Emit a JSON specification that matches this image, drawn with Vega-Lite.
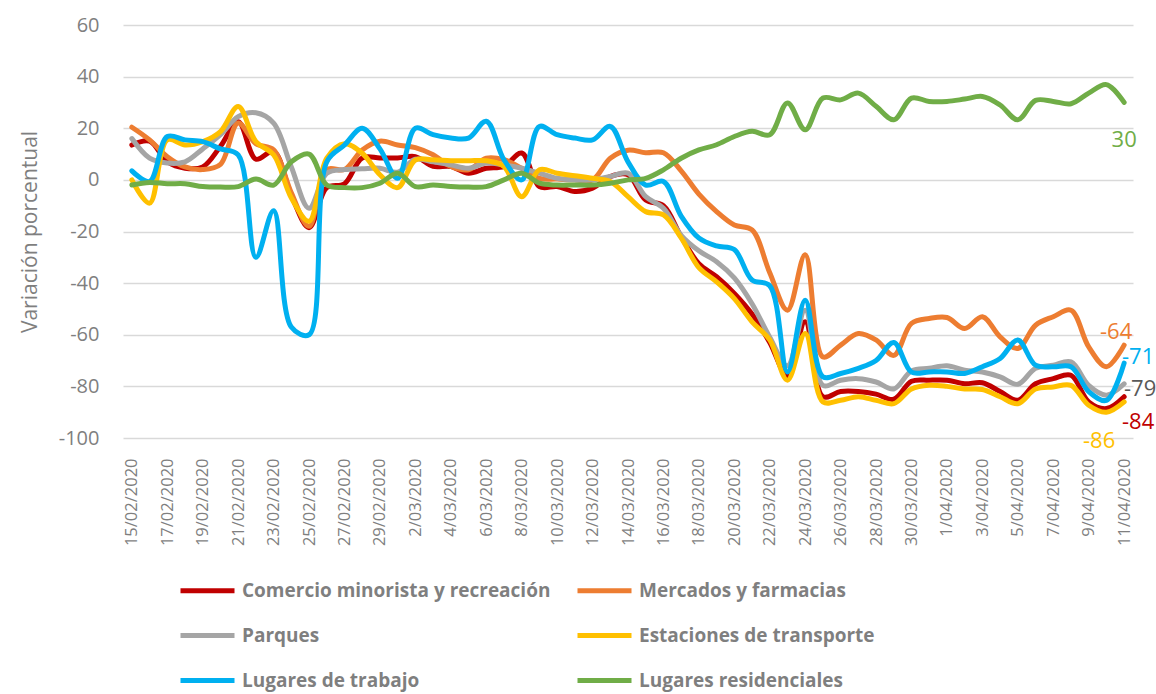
{
"$schema":"https://vega.github.io/schema/vega-lite/v6.json",
"width":1010,"height":413,
"autosize":{"type":"none"},
"padding":{"left":123,"top":25,"right":23,"bottom":256},
"config":{"view":{"stroke":null},"font":"Open Sans","locale":{"number":{"decimal":".","thousands":",","grouping":[3],"currency":["",""],"minus":"-"}}},
"data":{"values":[
{"f":"15/02/2020","s":"Comercio minorista y recreación","v":13.5},{"f":"16/02/2020","s":"Comercio minorista y recreación","v":15},{"f":"17/02/2020","s":"Comercio minorista y recreación","v":7},{"f":"18/02/2020","s":"Comercio minorista y recreación","v":4.5},{"f":"19/02/2020","s":"Comercio minorista y recreación","v":5},{"f":"20/02/2020","s":"Comercio minorista y recreación","v":13},{"f":"21/02/2020","s":"Comercio minorista y recreación","v":22.5},{"f":"22/02/2020","s":"Comercio minorista y recreación","v":8},{"f":"23/02/2020","s":"Comercio minorista y recreación","v":11},{"f":"24/02/2020","s":"Comercio minorista y recreación","v":-6},{"f":"25/02/2020","s":"Comercio minorista y recreación","v":-18.5},{"f":"26/02/2020","s":"Comercio minorista y recreación","v":-3},{"f":"27/02/2020","s":"Comercio minorista y recreación","v":-1.5},{"f":"28/02/2020","s":"Comercio minorista y recreación","v":8.5},{"f":"29/02/2020","s":"Comercio minorista y recreación","v":8.5},{"f":"1/03/2020","s":"Comercio minorista y recreación","v":8.5},{"f":"2/03/2020","s":"Comercio minorista y recreación","v":9},{"f":"3/03/2020","s":"Comercio minorista y recreación","v":5.2},{"f":"4/03/2020","s":"Comercio minorista y recreación","v":5.2},{"f":"5/03/2020","s":"Comercio minorista y recreación","v":2.6},{"f":"6/03/2020","s":"Comercio minorista y recreación","v":4.5},{"f":"7/03/2020","s":"Comercio minorista y recreación","v":5.2},{"f":"8/03/2020","s":"Comercio minorista y recreación","v":10.4},{"f":"9/03/2020","s":"Comercio minorista y recreación","v":-2.6},{"f":"10/03/2020","s":"Comercio minorista y recreación","v":-2.6},{"f":"11/03/2020","s":"Comercio minorista y recreación","v":-4.5},{"f":"12/03/2020","s":"Comercio minorista y recreación","v":-3.2},{"f":"13/03/2020","s":"Comercio minorista y recreación","v":1.3},{"f":"14/03/2020","s":"Comercio minorista y recreación","v":2},{"f":"15/03/2020","s":"Comercio minorista y recreación","v":-7.8},{"f":"16/03/2020","s":"Comercio minorista y recreación","v":-10},{"f":"17/03/2020","s":"Comercio minorista y recreación","v":-22},{"f":"18/03/2020","s":"Comercio minorista y recreación","v":-32.5},{"f":"19/03/2020","s":"Comercio minorista y recreación","v":-37.5},{"f":"20/03/2020","s":"Comercio minorista y recreación","v":-44},{"f":"21/03/2020","s":"Comercio minorista y recreación","v":-52},{"f":"22/03/2020","s":"Comercio minorista y recreación","v":-63},{"f":"23/03/2020","s":"Comercio minorista y recreación","v":-76},{"f":"24/03/2020","s":"Comercio minorista y recreación","v":-55},{"f":"25/03/2020","s":"Comercio minorista y recreación","v":-84},{"f":"26/03/2020","s":"Comercio minorista y recreación","v":-82},{"f":"27/03/2020","s":"Comercio minorista y recreación","v":-82},{"f":"28/03/2020","s":"Comercio minorista y recreación","v":-83},{"f":"29/03/2020","s":"Comercio minorista y recreación","v":-85},{"f":"30/03/2020","s":"Comercio minorista y recreación","v":-78},{"f":"31/03/2020","s":"Comercio minorista y recreación","v":-77.6},{"f":"1/04/2020","s":"Comercio minorista y recreación","v":-77.6},{"f":"2/04/2020","s":"Comercio minorista y recreación","v":-79},{"f":"3/04/2020","s":"Comercio minorista y recreación","v":-78.6},{"f":"4/04/2020","s":"Comercio minorista y recreación","v":-82},{"f":"5/04/2020","s":"Comercio minorista y recreación","v":-85.4},{"f":"6/04/2020","s":"Comercio minorista y recreación","v":-79},{"f":"7/04/2020","s":"Comercio minorista y recreación","v":-77},{"f":"8/04/2020","s":"Comercio minorista y recreación","v":-75.7},{"f":"9/04/2020","s":"Comercio minorista y recreación","v":-86},{"f":"10/04/2020","s":"Comercio minorista y recreación","v":-88.6},{"f":"11/04/2020","s":"Comercio minorista y recreación","v":-84},
{"f":"15/02/2020","s":"Mercados y farmacias","v":20.4},{"f":"16/02/2020","s":"Mercados y farmacias","v":15.5},{"f":"17/02/2020","s":"Mercados y farmacias","v":9},{"f":"18/02/2020","s":"Mercados y farmacias","v":5},{"f":"19/02/2020","s":"Mercados y farmacias","v":4},{"f":"20/02/2020","s":"Mercados y farmacias","v":6},{"f":"21/02/2020","s":"Mercados y farmacias","v":22},{"f":"22/02/2020","s":"Mercados y farmacias","v":14},{"f":"23/02/2020","s":"Mercados y farmacias","v":11.6},{"f":"24/02/2020","s":"Mercados y farmacias","v":-5},{"f":"25/02/2020","s":"Mercados y farmacias","v":-18},{"f":"26/02/2020","s":"Mercados y farmacias","v":4},{"f":"27/02/2020","s":"Mercados y farmacias","v":4},{"f":"28/02/2020","s":"Mercados y farmacias","v":11.6},{"f":"29/02/2020","s":"Mercados y farmacias","v":15},{"f":"1/03/2020","s":"Mercados y farmacias","v":13.5},{"f":"2/03/2020","s":"Mercados y farmacias","v":12.5},{"f":"3/03/2020","s":"Mercados y farmacias","v":9.7},{"f":"4/03/2020","s":"Mercados y farmacias","v":5.2},{"f":"5/03/2020","s":"Mercados y farmacias","v":3.9},{"f":"6/03/2020","s":"Mercados y farmacias","v":8.4},{"f":"7/03/2020","s":"Mercados y farmacias","v":7.8},{"f":"8/03/2020","s":"Mercados y farmacias","v":4.5},{"f":"9/03/2020","s":"Mercados y farmacias","v":0.6},{"f":"10/03/2020","s":"Mercados y farmacias","v":0.3},{"f":"11/03/2020","s":"Mercados y farmacias","v":0},{"f":"12/03/2020","s":"Mercados y farmacias","v":0},{"f":"13/03/2020","s":"Mercados y farmacias","v":8.4},{"f":"14/03/2020","s":"Mercados y farmacias","v":11.5},{"f":"15/03/2020","s":"Mercados y farmacias","v":10.5},{"f":"16/03/2020","s":"Mercados y farmacias","v":10.5},{"f":"17/03/2020","s":"Mercados y farmacias","v":3.5},{"f":"18/03/2020","s":"Mercados y farmacias","v":-5.5},{"f":"19/03/2020","s":"Mercados y farmacias","v":-12.3},{"f":"20/03/2020","s":"Mercados y farmacias","v":-17.5},{"f":"21/03/2020","s":"Mercados y farmacias","v":-19.4},{"f":"22/03/2020","s":"Mercados y farmacias","v":-36},{"f":"23/03/2020","s":"Mercados y farmacias","v":-50.5},{"f":"24/03/2020","s":"Mercados y farmacias","v":-29},{"f":"25/03/2020","s":"Mercados y farmacias","v":-68.6},{"f":"26/03/2020","s":"Mercados y farmacias","v":-64},{"f":"27/03/2020","s":"Mercados y farmacias","v":-59.5},{"f":"28/03/2020","s":"Mercados y farmacias","v":-62},{"f":"29/03/2020","s":"Mercados y farmacias","v":-68},{"f":"30/03/2020","s":"Mercados y farmacias","v":-55.6},{"f":"31/03/2020","s":"Mercados y farmacias","v":-53.7},{"f":"1/04/2020","s":"Mercados y farmacias","v":-53.3},{"f":"2/04/2020","s":"Mercados y farmacias","v":-57.6},{"f":"3/04/2020","s":"Mercados y farmacias","v":-53},{"f":"4/04/2020","s":"Mercados y farmacias","v":-60.8},{"f":"5/04/2020","s":"Mercados y farmacias","v":-65.3},{"f":"6/04/2020","s":"Mercados y farmacias","v":-56.3},{"f":"7/04/2020","s":"Mercados y farmacias","v":-53},{"f":"8/04/2020","s":"Mercados y farmacias","v":-50.5},{"f":"9/04/2020","s":"Mercados y farmacias","v":-64.7},{"f":"10/04/2020","s":"Mercados y farmacias","v":-72.4},{"f":"11/04/2020","s":"Mercados y farmacias","v":-64},
{"f":"15/02/2020","s":"Parques","v":16},{"f":"16/02/2020","s":"Parques","v":8.4},{"f":"17/02/2020","s":"Parques","v":6.5},{"f":"18/02/2020","s":"Parques","v":7},{"f":"19/02/2020","s":"Parques","v":12},{"f":"20/02/2020","s":"Parques","v":17.5},{"f":"21/02/2020","s":"Parques","v":24.5},{"f":"22/02/2020","s":"Parques","v":26},{"f":"23/02/2020","s":"Parques","v":22},{"f":"24/02/2020","s":"Parques","v":5},{"f":"25/02/2020","s":"Parques","v":-11},{"f":"26/02/2020","s":"Parques","v":2.6},{"f":"27/02/2020","s":"Parques","v":4},{"f":"28/02/2020","s":"Parques","v":4.3},{"f":"29/02/2020","s":"Parques","v":4.5},{"f":"1/03/2020","s":"Parques","v":3},{"f":"2/03/2020","s":"Parques","v":8},{"f":"3/03/2020","s":"Parques","v":7},{"f":"4/03/2020","s":"Parques","v":5.8},{"f":"5/03/2020","s":"Parques","v":4.5},{"f":"6/03/2020","s":"Parques","v":6.5},{"f":"7/03/2020","s":"Parques","v":5.8},{"f":"8/03/2020","s":"Parques","v":4.5},{"f":"9/03/2020","s":"Parques","v":2.6},{"f":"10/03/2020","s":"Parques","v":0.6},{"f":"11/03/2020","s":"Parques","v":0},{"f":"12/03/2020","s":"Parques","v":0},{"f":"13/03/2020","s":"Parques","v":1.3},{"f":"14/03/2020","s":"Parques","v":2.6},{"f":"15/03/2020","s":"Parques","v":-6.5},{"f":"16/03/2020","s":"Parques","v":-11},{"f":"17/03/2020","s":"Parques","v":-21.5},{"f":"18/03/2020","s":"Parques","v":-27.5},{"f":"19/03/2020","s":"Parques","v":-31.7},{"f":"20/03/2020","s":"Parques","v":-38},{"f":"21/03/2020","s":"Parques","v":-48},{"f":"22/03/2020","s":"Parques","v":-61},{"f":"23/03/2020","s":"Parques","v":-72},{"f":"24/03/2020","s":"Parques","v":-50.5},{"f":"25/03/2020","s":"Parques","v":-79.6},{"f":"26/03/2020","s":"Parques","v":-77.6},{"f":"27/03/2020","s":"Parques","v":-77},{"f":"28/03/2020","s":"Parques","v":-78.3},{"f":"29/03/2020","s":"Parques","v":-81},{"f":"30/03/2020","s":"Parques","v":-74},{"f":"31/03/2020","s":"Parques","v":-73},{"f":"1/04/2020","s":"Parques","v":-72},{"f":"2/04/2020","s":"Parques","v":-73.7},{"f":"3/04/2020","s":"Parques","v":-74.4},{"f":"4/04/2020","s":"Parques","v":-76.3},{"f":"5/04/2020","s":"Parques","v":-79.2},{"f":"6/04/2020","s":"Parques","v":-73},{"f":"7/04/2020","s":"Parques","v":-71.8},{"f":"8/04/2020","s":"Parques","v":-70.5},{"f":"9/04/2020","s":"Parques","v":-79.6},{"f":"10/04/2020","s":"Parques","v":-83.4},{"f":"11/04/2020","s":"Parques","v":-79},
{"f":"15/02/2020","s":"Estaciones de transporte","v":0},{"f":"16/02/2020","s":"Estaciones de transporte","v":-9},{"f":"17/02/2020","s":"Estaciones de transporte","v":15.5},{"f":"18/02/2020","s":"Estaciones de transporte","v":13.5},{"f":"19/02/2020","s":"Estaciones de transporte","v":14.8},{"f":"20/02/2020","s":"Estaciones de transporte","v":18.7},{"f":"21/02/2020","s":"Estaciones de transporte","v":28.4},{"f":"22/02/2020","s":"Estaciones de transporte","v":14.8},{"f":"23/02/2020","s":"Estaciones de transporte","v":9.7},{"f":"24/02/2020","s":"Estaciones de transporte","v":-7},{"f":"25/02/2020","s":"Estaciones de transporte","v":-16},{"f":"26/02/2020","s":"Estaciones de transporte","v":8.4},{"f":"27/02/2020","s":"Estaciones de transporte","v":14},{"f":"28/02/2020","s":"Estaciones de transporte","v":10.3},{"f":"29/02/2020","s":"Estaciones de transporte","v":2},{"f":"1/03/2020","s":"Estaciones de transporte","v":-3},{"f":"2/03/2020","s":"Estaciones de transporte","v":7.7},{"f":"3/03/2020","s":"Estaciones de transporte","v":7.8},{"f":"4/03/2020","s":"Estaciones de transporte","v":7.4},{"f":"5/03/2020","s":"Estaciones de transporte","v":7.4},{"f":"6/03/2020","s":"Estaciones de transporte","v":7.4},{"f":"7/03/2020","s":"Estaciones de transporte","v":5.2},{"f":"8/03/2020","s":"Estaciones de transporte","v":-6.5},{"f":"9/03/2020","s":"Estaciones de transporte","v":3.9},{"f":"10/03/2020","s":"Estaciones de transporte","v":2.6},{"f":"11/03/2020","s":"Estaciones de transporte","v":1.6},{"f":"12/03/2020","s":"Estaciones de transporte","v":0.6},{"f":"13/03/2020","s":"Estaciones de transporte","v":-0.6},{"f":"14/03/2020","s":"Estaciones de transporte","v":-6.5},{"f":"15/03/2020","s":"Estaciones de transporte","v":-12.3},{"f":"16/03/2020","s":"Estaciones de transporte","v":-13.6},{"f":"17/03/2020","s":"Estaciones de transporte","v":-22.5},{"f":"18/03/2020","s":"Estaciones de transporte","v":-34},{"f":"19/03/2020","s":"Estaciones de transporte","v":-39.5},{"f":"20/03/2020","s":"Estaciones de transporte","v":-46},{"f":"21/03/2020","s":"Estaciones de transporte","v":-55},{"f":"22/03/2020","s":"Estaciones de transporte","v":-62},{"f":"23/03/2020","s":"Estaciones de transporte","v":-77.6},{"f":"24/03/2020","s":"Estaciones de transporte","v":-59.5},{"f":"25/03/2020","s":"Estaciones de transporte","v":-86},{"f":"26/03/2020","s":"Estaciones de transporte","v":-85.4},{"f":"27/03/2020","s":"Estaciones de transporte","v":-84},{"f":"28/03/2020","s":"Estaciones de transporte","v":-85.4},{"f":"29/03/2020","s":"Estaciones de transporte","v":-86.7},{"f":"30/03/2020","s":"Estaciones de transporte","v":-81},{"f":"31/03/2020","s":"Estaciones de transporte","v":-79.6},{"f":"1/04/2020","s":"Estaciones de transporte","v":-80},{"f":"2/04/2020","s":"Estaciones de transporte","v":-81},{"f":"3/04/2020","s":"Estaciones de transporte","v":-81.2},{"f":"4/04/2020","s":"Estaciones de transporte","v":-84},{"f":"5/04/2020","s":"Estaciones de transporte","v":-86.7},{"f":"6/04/2020","s":"Estaciones de transporte","v":-81},{"f":"7/04/2020","s":"Estaciones de transporte","v":-80.2},{"f":"8/04/2020","s":"Estaciones de transporte","v":-79.6},{"f":"9/04/2020","s":"Estaciones de transporte","v":-87.3},{"f":"10/04/2020","s":"Estaciones de transporte","v":-90},{"f":"11/04/2020","s":"Estaciones de transporte","v":-86},
{"f":"15/02/2020","s":"Lugares de trabajo","v":3.5},{"f":"16/02/2020","s":"Lugares de trabajo","v":-0.6},{"f":"17/02/2020","s":"Lugares de trabajo","v":16.8},{"f":"18/02/2020","s":"Lugares de trabajo","v":15.5},{"f":"19/02/2020","s":"Lugares de trabajo","v":14.8},{"f":"20/02/2020","s":"Lugares de trabajo","v":12},{"f":"21/02/2020","s":"Lugares de trabajo","v":9.7},{"f":"22/02/2020","s":"Lugares de trabajo","v":-30},{"f":"23/02/2020","s":"Lugares de trabajo","v":-12},{"f":"24/02/2020","s":"Lugares de trabajo","v":-57},{"f":"25/02/2020","s":"Lugares de trabajo","v":-60},{"f":"26/02/2020","s":"Lugares de trabajo","v":7},{"f":"27/02/2020","s":"Lugares de trabajo","v":13.5},{"f":"28/02/2020","s":"Lugares de trabajo","v":20},{"f":"29/02/2020","s":"Lugares de trabajo","v":12},{"f":"1/03/2020","s":"Lugares de trabajo","v":0.6},{"f":"2/03/2020","s":"Lugares de trabajo","v":20},{"f":"3/03/2020","s":"Lugares de trabajo","v":17.5},{"f":"4/03/2020","s":"Lugares de trabajo","v":16.2},{"f":"5/03/2020","s":"Lugares de trabajo","v":16.2},{"f":"6/03/2020","s":"Lugares de trabajo","v":22.7},{"f":"7/03/2020","s":"Lugares de trabajo","v":7.8},{"f":"8/03/2020","s":"Lugares de trabajo","v":0},{"f":"9/03/2020","s":"Lugares de trabajo","v":20.7},{"f":"10/03/2020","s":"Lugares de trabajo","v":17.5},{"f":"11/03/2020","s":"Lugares de trabajo","v":16.2},{"f":"12/03/2020","s":"Lugares de trabajo","v":15.5},{"f":"13/03/2020","s":"Lugares de trabajo","v":20.7},{"f":"14/03/2020","s":"Lugares de trabajo","v":7},{"f":"15/03/2020","s":"Lugares de trabajo","v":-2},{"f":"16/03/2020","s":"Lugares de trabajo","v":-0.6},{"f":"17/03/2020","s":"Lugares de trabajo","v":-14},{"f":"18/03/2020","s":"Lugares de trabajo","v":-22.5},{"f":"19/03/2020","s":"Lugares de trabajo","v":-25.6},{"f":"20/03/2020","s":"Lugares de trabajo","v":-27},{"f":"21/03/2020","s":"Lugares de trabajo","v":-38.8},{"f":"22/03/2020","s":"Lugares de trabajo","v":-41},{"f":"23/03/2020","s":"Lugares de trabajo","v":-74.4},{"f":"24/03/2020","s":"Lugares de trabajo","v":-46.6},{"f":"25/03/2020","s":"Lugares de trabajo","v":-76.3},{"f":"26/03/2020","s":"Lugares de trabajo","v":-75},{"f":"27/03/2020","s":"Lugares de trabajo","v":-73},{"f":"28/03/2020","s":"Lugares de trabajo","v":-70},{"f":"29/03/2020","s":"Lugares de trabajo","v":-63},{"f":"30/03/2020","s":"Lugares de trabajo","v":-74.5},{"f":"31/03/2020","s":"Lugares de trabajo","v":-74.4},{"f":"1/04/2020","s":"Lugares de trabajo","v":-74.4},{"f":"2/04/2020","s":"Lugares de trabajo","v":-75},{"f":"3/04/2020","s":"Lugares de trabajo","v":-72.4},{"f":"4/04/2020","s":"Lugares de trabajo","v":-69.2},{"f":"5/04/2020","s":"Lugares de trabajo","v":-62},{"f":"6/04/2020","s":"Lugares de trabajo","v":-71.8},{"f":"7/04/2020","s":"Lugares de trabajo","v":-72.4},{"f":"8/04/2020","s":"Lugares de trabajo","v":-72.4},{"f":"9/04/2020","s":"Lugares de trabajo","v":-82},{"f":"10/04/2020","s":"Lugares de trabajo","v":-85.4},{"f":"11/04/2020","s":"Lugares de trabajo","v":-71},
{"f":"15/02/2020","s":"Lugares residenciales","v":-2},{"f":"16/02/2020","s":"Lugares residenciales","v":-1},{"f":"17/02/2020","s":"Lugares residenciales","v":-1.5},{"f":"18/02/2020","s":"Lugares residenciales","v":-1.5},{"f":"19/02/2020","s":"Lugares residenciales","v":-2.6},{"f":"20/02/2020","s":"Lugares residenciales","v":-2.8},{"f":"21/02/2020","s":"Lugares residenciales","v":-2.6},{"f":"22/02/2020","s":"Lugares residenciales","v":0.3},{"f":"23/02/2020","s":"Lugares residenciales","v":-2},{"f":"24/02/2020","s":"Lugares residenciales","v":7},{"f":"25/02/2020","s":"Lugares residenciales","v":10},{"f":"26/02/2020","s":"Lugares residenciales","v":-2},{"f":"27/02/2020","s":"Lugares residenciales","v":-3},{"f":"28/02/2020","s":"Lugares residenciales","v":-3},{"f":"29/02/2020","s":"Lugares residenciales","v":-1.3},{"f":"1/03/2020","s":"Lugares residenciales","v":2.6},{"f":"2/03/2020","s":"Lugares residenciales","v":-2.6},{"f":"3/03/2020","s":"Lugares residenciales","v":-2},{"f":"4/03/2020","s":"Lugares residenciales","v":-2.6},{"f":"5/03/2020","s":"Lugares residenciales","v":-2.8},{"f":"6/03/2020","s":"Lugares residenciales","v":-2.6},{"f":"7/03/2020","s":"Lugares residenciales","v":0},{"f":"8/03/2020","s":"Lugares residenciales","v":2.6},{"f":"9/03/2020","s":"Lugares residenciales","v":-1.3},{"f":"10/03/2020","s":"Lugares residenciales","v":-2},{"f":"11/03/2020","s":"Lugares residenciales","v":-2},{"f":"12/03/2020","s":"Lugares residenciales","v":-2},{"f":"13/03/2020","s":"Lugares residenciales","v":-1.3},{"f":"14/03/2020","s":"Lugares residenciales","v":0},{"f":"15/03/2020","s":"Lugares residenciales","v":0.6},{"f":"16/03/2020","s":"Lugares residenciales","v":3.9},{"f":"17/03/2020","s":"Lugares residenciales","v":8.4},{"f":"18/03/2020","s":"Lugares residenciales","v":11.6},{"f":"19/03/2020","s":"Lugares residenciales","v":13.6},{"f":"20/03/2020","s":"Lugares residenciales","v":16.8},{"f":"21/03/2020","s":"Lugares residenciales","v":18.8},{"f":"22/03/2020","s":"Lugares residenciales","v":17.5},{"f":"23/03/2020","s":"Lugares residenciales","v":29.8},{"f":"24/03/2020","s":"Lugares residenciales","v":19.4},{"f":"25/03/2020","s":"Lugares residenciales","v":31.7},{"f":"26/03/2020","s":"Lugares residenciales","v":31},{"f":"27/03/2020","s":"Lugares residenciales","v":33.6},{"f":"28/03/2020","s":"Lugares residenciales","v":28.5},{"f":"29/03/2020","s":"Lugares residenciales","v":23.3},{"f":"30/03/2020","s":"Lugares residenciales","v":31.7},{"f":"31/03/2020","s":"Lugares residenciales","v":30.4},{"f":"1/04/2020","s":"Lugares residenciales","v":30.4},{"f":"2/04/2020","s":"Lugares residenciales","v":31.3},{"f":"3/04/2020","s":"Lugares residenciales","v":32.3},{"f":"4/04/2020","s":"Lugares residenciales","v":29},{"f":"5/04/2020","s":"Lugares residenciales","v":23.3},{"f":"6/04/2020","s":"Lugares residenciales","v":30.8},{"f":"7/04/2020","s":"Lugares residenciales","v":30.4},{"f":"8/04/2020","s":"Lugares residenciales","v":29.5},{"f":"9/04/2020","s":"Lugares residenciales","v":33.6},{"f":"10/04/2020","s":"Lugares residenciales","v":36.9},{"f":"11/04/2020","s":"Lugares residenciales","v":30}
]},
"encoding":{
"x":{"field":"f","type":"ordinal","sort":null,"scale":{"type":"point","padding":0.5},
"axis":{"title":null,"values":["15/02/2020","17/02/2020","19/02/2020","21/02/2020","23/02/2020","25/02/2020","27/02/2020","29/02/2020","2/03/2020","4/03/2020","6/03/2020","8/03/2020","10/03/2020","12/03/2020","14/03/2020","16/03/2020","18/03/2020","20/03/2020","22/03/2020","24/03/2020","26/03/2020","28/03/2020","30/03/2020","1/04/2020","3/04/2020","5/04/2020","7/04/2020","9/04/2020","11/04/2020"],
"labelAngle":-90,"labelFontSize":16.5,"labelColor":"#7f7f7f","labelFont":"Open Sans","ticks":false,"domain":false,"grid":false,"labelPadding":20}},
"y":{"field":"v","type":"quantitative","scale":{"domain":[-100,60],"nice":false,"zero":false},
"axis":{"values":[-100,-80,-60,-40,-20,0,20,40,60],"grid":true,"gridColor":"#d9d9d9","gridWidth":1.5,"domain":false,"ticks":false,"labelFontSize":20,"labelColor":"#7f7f7f","labelFont":"Open Sans","labelPadding":24,"title":"Variación porcentual","titleFontSize":21,"titleFontWeight":"normal","titleColor":"#7f7f7f","titleFont":"Open Sans","titlePadding":18}}
},
"layer":[
{"mark":{"type":"line","interpolate":"catmull-rom","strokeWidth":5,"strokeCap":"round","strokeJoin":"round"},
"encoding":{"color":{"field":"s","type":"nominal",
"scale":{"domain":["Comercio minorista y recreación","Mercados y farmacias","Parques","Estaciones de transporte","Lugares de trabajo","Lugares residenciales"],"range":["#C00000","#ED7D31","#A5A5A5","#FFC000","#00B0F0","#70AD47"]},
"legend":{"orient":"none","direction":"horizontal","legendX":55,"legendY":536,"columns":2,"title":null,"symbolType":"stroke","symbolSize":2916,"symbolStrokeWidth":5,"labelFontSize":19,"labelFontWeight":"bold","labelColor":"#7f7f7f","labelFont":"Open Sans","labelLimit":600,"rowPadding":5,"columnPadding":16,"labelOffset":5,"padding":0}}}},
{"transform":[{"filter":"datum.f == '11/04/2020' && datum.s == 'Lugares residenciales'"}],
"mark":{"type":"text","fontSize":22,"dx":0,"dy":38,"color":"#70AD47"},"encoding":{"text":{"field":"v","type":"quantitative","format":"d"}}},
{"transform":[{"filter":"datum.f == '11/04/2020' && datum.s == 'Mercados y farmacias'"}],
"mark":{"type":"text","fontSize":22,"dx":-8,"dy":-13,"color":"#ED7D31"},"encoding":{"text":{"field":"v","type":"quantitative","format":"d"}}},
{"transform":[{"filter":"datum.f == '11/04/2020' && datum.s == 'Lugares de trabajo'"}],
"mark":{"type":"text","fontSize":22,"dx":14,"dy":-6,"color":"#00B0F0"},"encoding":{"text":{"field":"v","type":"quantitative","format":"d"}}},
{"transform":[{"filter":"datum.f == '11/04/2020' && datum.s == 'Parques'"}],
"mark":{"type":"text","fontSize":22,"dx":16,"dy":5,"color":"#595959"},"encoding":{"text":{"field":"v","type":"quantitative","format":"d"}}},
{"transform":[{"filter":"datum.f == '11/04/2020' && datum.s == 'Comercio minorista y recreación'"}],
"mark":{"type":"text","fontSize":22,"dx":14,"dy":25,"color":"#C00000"},"encoding":{"text":{"field":"v","type":"quantitative","format":"d"}}},
{"transform":[{"filter":"datum.f == '11/04/2020' && datum.s == 'Estaciones de transporte'"}],
"mark":{"type":"text","fontSize":22,"dx":-25,"dy":39,"color":"#FFC000"},"encoding":{"text":{"field":"v","type":"quantitative","format":"d"}}}
]
}
